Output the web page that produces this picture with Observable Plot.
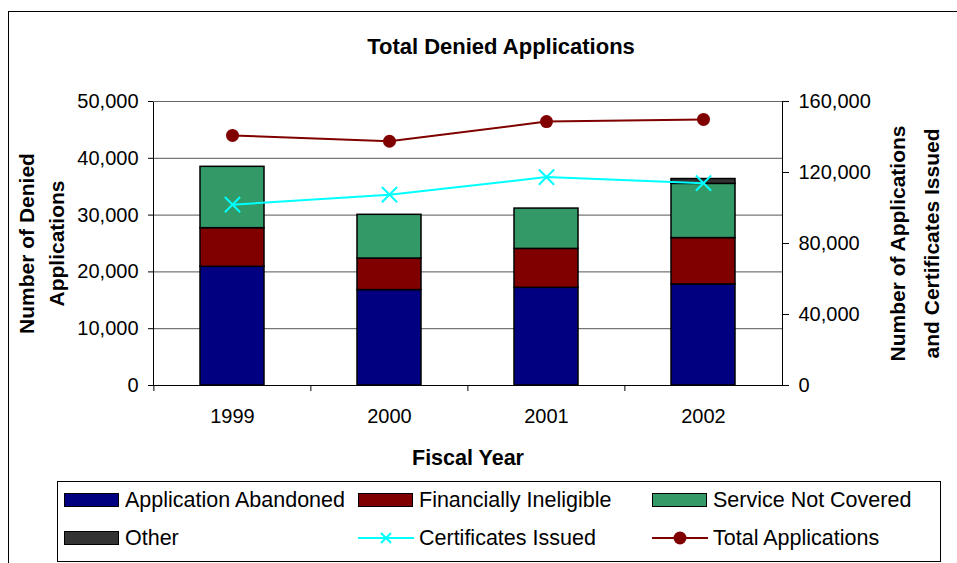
<!DOCTYPE html>
<html>
<head>
<meta charset="utf-8">
<script src="https://cdn.jsdelivr.net/npm/d3@7"></script>
<script src="https://cdn.jsdelivr.net/npm/@observablehq/plot@0.6"></script>
<style>
  html, body { margin: 0; padding: 0; background: #fff; }
  #wrap { position: relative; width: 957px; height: 563px; overflow: hidden; font-family: "Liberation Sans", Arial, sans-serif; }
  #border { position: absolute; left: 8px; top: 11px; width: 1000px; height: 600px; border-left: 1.5px solid #000; border-top: 1.5px solid #000; }
  #chart { position: absolute; left: 0; top: 0; }
  #legend { position: absolute; left: 57px; top: 481px; width: 882px; height: 79px; border: 1px solid #000; background: #fff; }
  .item { position: absolute; display: flex; align-items: center; font-size: 21.5px; color: #000; white-space: nowrap; }
  .sw { width: 53px; height: 12px; border: 1.5px solid #000; margin-right: 6px; }
  .ln { width: 56px; height: 16px; margin-right: 5px; }
</style>
</head>
<body>
<div id="wrap">
  <div id="border"></div>
  <div id="chart"></div>
  <div id="legend"></div>
</div>
<script>
// ---- data ----
const years = ["1999", "2000", "2001", "2002"];
const categories = ["Application Abandoned", "Financially Ineligible", "Service Not Covered", "Other"];
const catColors = ["#000080", "#800000", "#339966", "#333333"];
const abandoned = [20900, 16800, 17200, 17800];
const ineligible = [6800, 5550, 6850, 8150];
const notCovered = [10800, 7700, 7100, 9550];
const other = [0, 0, 0, 850];
const certificatesIssued = [101900, 107500, 117400, 114000];
const totalApplications = [140900, 137600, 148700, 149900];
const leftTicks = [0, 10000, 20000, 30000, 40000, 50000];
const rightTicks = [0, 40000, 80000, 120000, 160000];
const leftMax = 50000, rightMax = 160000;

// ---- tables ----
const series = [abandoned, ineligible, notCovered, other];
const bars = [];
categories.forEach((c, i) => years.forEach((y, j) => {
  if (series[i][j] > 0) bars.push({year: y, category: c, value: series[i][j]});
}));
const ratio = leftMax / rightMax;
const cert = years.map((y, i) => ({year: y, value: certificatesIssued[i]}));
const total = years.map((y, i) => ({year: y, value: totalApplications[i]}));

const W = 957, H = 563, mL = 153, mR = 175, mT = 101, mB = 178;
const step = (W - mL - mR) / years.length;
const fmt = d3.format(",");

const plot = Plot.plot({
  width: W, height: H,
  marginLeft: mL, marginRight: mR, marginTop: mT, marginBottom: mB,
  style: {fontFamily: "Liberation Sans, Arial, sans-serif", background: "transparent", overflow: "visible"},
  x: {domain: years, paddingInner: 0.594, paddingOuter: 0.297, axis: null},
  y: {domain: [0, leftMax], axis: null},
  color: {domain: categories, range: catColors},
  marks: [
    Plot.ruleY(leftTicks.slice(1), {stroke: "#555", strokeWidth: 1}),
    Plot.barY(bars, {x: "year", y: "value", fill: "category", order: categories, stroke: "#000", strokeWidth: 1.5}),
    Plot.frame({stroke: "#000", strokeWidth: 1}),
    Plot.ruleY([leftMax], {stroke: "#666", strokeWidth: 1.2}),
    Plot.line(total, {x: "year", y: d => d.value * ratio, stroke: "#800000", strokeWidth: 2}),
    Plot.dot(total, {x: "year", y: d => d.value * ratio, r: 6.5, fill: "#800000", stroke: "none"}),
    Plot.line(cert, {x: "year", y: d => d.value * ratio, stroke: "#00ffff", strokeWidth: 2}),
    Plot.dot(cert, {x: "year", y: d => d.value * ratio, symbol: "times", r: 7, stroke: "#00ffff", strokeWidth: 2}),
    // left axis
    Plot.axisY({anchor: "left", ticks: leftTicks, tickFormat: fmt, tickSize: 5, tickPadding: 10, fontSize: 20, label: null, stroke: "#000"}),
    // right axis (secondary scale mapped onto the primary one)
    Plot.axisY({anchor: "right", ticks: rightTicks.map(v => v * ratio), tickFormat: d => fmt(Math.round(d / ratio)), tickSize: 6, tickPadding: 10, fontSize: 20, label: null, stroke: "#000"}),
    // x axis boundary ticks and labels
    Plot.axisX({ticks: years, tickSize: 6, text: null, dx: -step / 2, label: null, stroke: "#000"}),
    Plot.axisX({ticks: years, tickSize: 0, tickPadding: 23, fontSize: 20, label: null}),
    // titles
    Plot.text(["Total Denied Applications"], {frameAnchor: "top", dx: 33, dy: -55, fontSize: 22, fontWeight: "bold", lineAnchor: "middle"}),
    Plot.text(["Fiscal Year"], {frameAnchor: "bottom", dy: 73, fontSize: 21.5, fontWeight: "bold", lineAnchor: "middle"}),
    Plot.text(["Number of Denied\nApplications"], {frameAnchor: "left", dx: -114, rotate: -90, textAnchor: "middle", fontSize: 21, fontWeight: "bold", lineHeight: 1.43, lineAnchor: "middle"}),
    Plot.text(["Number of Applications\nand Certificates Issued"], {frameAnchor: "right", dx: 129, rotate: -90, textAnchor: "middle", fontSize: 21, fontWeight: "bold", lineHeight: 1.6, lineAnchor: "middle"})
  ]
});
document.getElementById("chart").appendChild(plot);

// ---- legend ----
const legend = document.getElementById("legend");
const cols = [6, 300, 594];
const rows = [18, 56];
const items = [
  {label: categories[0], type: "sw", color: catColors[0]},
  {label: categories[1], type: "sw", color: catColors[1]},
  {label: categories[2], type: "sw", color: catColors[2]},
  {label: categories[3], type: "sw", color: catColors[3]},
  {label: "Certificates Issued", type: "x", color: "#00ffff"},
  {label: "Total Applications", type: "o", color: "#800000"}
];
items.forEach((it, i) => {
  const d = document.createElement("div");
  d.className = "item";
  d.style.left = cols[i % 3] + "px";
  d.style.top = (rows[Math.floor(i / 3)] - 13) + "px";
  d.style.height = "26px";
  if (it.type === "sw") {
    const s = document.createElement("div");
    s.className = "sw";
    s.style.background = it.color;
    d.appendChild(s);
  } else {
    const ns = "http://www.w3.org/2000/svg";
    const s = document.createElementNS(ns, "svg");
    s.setAttribute("class", "ln");
    s.setAttribute("width", 56); s.setAttribute("height", 16);
    const l = document.createElementNS(ns, "line");
    l.setAttribute("x1", 0); l.setAttribute("x2", 56); l.setAttribute("y1", 8); l.setAttribute("y2", 8);
    l.setAttribute("stroke", it.color); l.setAttribute("stroke-width", 2);
    s.appendChild(l);
    if (it.type === "x") {
      const p = document.createElementNS(ns, "path");
      p.setAttribute("d", "M23,3L33,13M33,3L23,13");
      p.setAttribute("stroke", it.color); p.setAttribute("stroke-width", 2);
      s.appendChild(p);
    } else {
      const c = document.createElementNS(ns, "circle");
      c.setAttribute("cx", 28); c.setAttribute("cy", 8); c.setAttribute("r", 6.5);
      c.setAttribute("fill", it.color);
      s.appendChild(c);
    }
    d.appendChild(s);
  }
  const t = document.createElement("span");
  t.textContent = it.label;
  d.appendChild(t);
  legend.appendChild(d);
});
</script>
</body>
</html>
